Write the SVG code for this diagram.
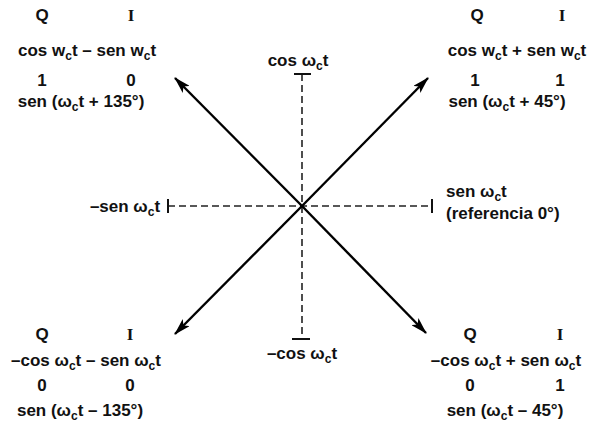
<svg xmlns="http://www.w3.org/2000/svg" width="598" height="422" viewBox="0 0 598 422">
<style>
text{font-family:"Liberation Sans",Arial,sans-serif;font-size:17px;font-weight:bold;fill:#111;text-anchor:middle}
.s{font-size:12px}
.i{font-family:"Liberation Serif","Times New Roman",serif;font-size:17px}
.ax{stroke:#222;stroke-width:1.6;stroke-dasharray:7,4;fill:none}
.tk{stroke:#111;stroke-width:2;fill:none}
.vec{stroke:#000;stroke-width:2.4;fill:none;marker-end:url(#ah)}
</style>
<defs>
<marker id="ah" markerWidth="17" markerHeight="10" refX="16" refY="5" orient="auto" markerUnits="userSpaceOnUse">
<path d="M0,0 L17,5 L0,10 L4,5 Z" fill="#000"/>
</marker>
</defs>
<g id="connectors">
<line class="ax" x1="168" y1="206" x2="432" y2="206"/>
<line class="ax" x1="302" y1="74" x2="302" y2="339"/>
<line class="tk" x1="168" y1="199" x2="168" y2="213"/>
<line class="tk" x1="432" y1="199" x2="432" y2="213"/>
<line class="tk" x1="294" y1="74" x2="311" y2="74"/>
<line class="tk" x1="292" y1="339" x2="310" y2="339"/>
<line class="vec" x1="302" y1="206" x2="175" y2="78"/>
<line class="vec" x1="302" y1="206" x2="428" y2="78"/>
<line class="vec" x1="302" y1="206" x2="175" y2="334"/>
<line class="vec" x1="302" y1="206" x2="426" y2="333"/>
</g>
<g id="axis-labels">
<text x="298" y="66">cos ω<tspan class="s" dy="4">c</tspan><tspan dy="-4">t</tspan></text>
<text x="125" y="212">–sen ω<tspan class="s" dy="4">c</tspan><tspan dy="-4">t</tspan></text>
<text x="446" y="197" style="text-anchor:start">sen ω<tspan class="s" dy="4">c</tspan><tspan dy="-4">t</tspan></text>
<text x="446" y="219" style="text-anchor:start">(referencia 0°)</text>
<text x="302" y="359">–cos ω<tspan class="s" dy="4">c</tspan><tspan dy="-4">t</tspan></text>
</g>
<g id="q-top-left">
<text x="42" y="21">Q</text><text class="i" x="131" y="21">I</text>
<text x="87" y="56">cos w<tspan class="s" dy="4">c</tspan><tspan dy="-4">t – sen w</tspan><tspan class="s" dy="4">c</tspan><tspan dy="-4">t</tspan></text>
<text x="42" y="86">1</text><text x="131" y="86">0</text>
<text x="81" y="107">sen (ω<tspan class="s" dy="4">c</tspan><tspan dy="-4">t + 135°)</tspan></text>
</g>
<g id="q-top-right">
<text x="477" y="21">Q</text><text class="i" x="562" y="21">I</text>
<text x="517" y="56">cos w<tspan class="s" dy="4">c</tspan><tspan dy="-4">t + sen w</tspan><tspan class="s" dy="4">c</tspan><tspan dy="-4">t</tspan></text>
<text x="475" y="86">1</text><text x="560" y="86">1</text>
<text x="507" y="107">sen (ω<tspan class="s" dy="4">c</tspan><tspan dy="-4">t + 45°)</tspan></text>
</g>
<g id="q-bottom-left">
<text x="42" y="340">Q</text><text class="i" x="130" y="340">I</text>
<text x="86" y="366">–cos ω<tspan class="s" dy="4">c</tspan><tspan dy="-4">t – sen ω</tspan><tspan class="s" dy="4">c</tspan><tspan dy="-4">t</tspan></text>
<text x="42" y="391">0</text><text x="130" y="391">0</text>
<text x="80" y="416">sen (ω<tspan class="s" dy="4">c</tspan><tspan dy="-4">t – 135°)</tspan></text>
</g>
<g id="q-bottom-right">
<text x="470" y="340">Q</text><text class="i" x="560" y="340">I</text>
<text x="506" y="366">–cos ω<tspan class="s" dy="4">c</tspan><tspan dy="-4">t + sen ω</tspan><tspan class="s" dy="4">c</tspan><tspan dy="-4">t</tspan></text>
<text x="470" y="391">0</text><text x="560" y="391">1</text>
<text x="505" y="416">sen (ω<tspan class="s" dy="4">c</tspan><tspan dy="-4">t – 45°)</tspan></text>
</g>
</svg>
